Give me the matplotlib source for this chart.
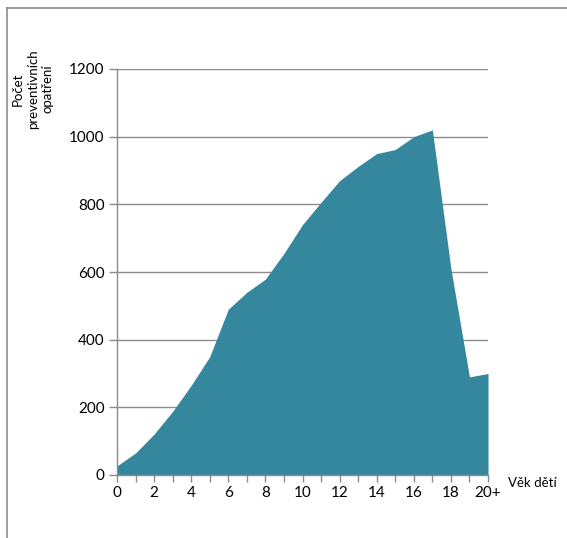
import matplotlib
matplotlib.use('Agg')
import matplotlib.pyplot as plt
from matplotlib.lines import Line2D
import numpy as np

plt.rcParams['font.family'] = ['Lato', 'DejaVu Sans']

# počet preventivních opatření podle věku dítěte
ages = list(range(21))
counts = [27, 65, 121, 188, 265, 350, 490, 540, 579, 655, 740, 806,
          870, 912, 950, 962, 1000, 1020, 610, 290, 300]
tick_pos = list(range(0, 21, 2))
tick_labels = ['0', '2', '4', '6', '8', '10', '12', '14', '16', '18', '20+']
y_ticks = [0, 200, 400, 600, 800, 1000, 1200]

fill_color = '#34879C'
grid_color = '#8C8C8C'

fig = plt.figure(figsize=(5.67, 5.38), dpi=100)
ax = fig.add_axes([117 / 567, 1 - 475 / 538, 371 / 567, 406 / 538])

ax.fill_between(ages, counts, 0, color=fill_color, linewidth=0, zorder=3)

ax.set_xlim(0, 20)
ax.set_ylim(0, 1200)
ax.set_xticks(ages, minor=True)
ax.set_xticks(tick_pos)
ax.set_xticklabels(tick_labels, fontsize=11)
ax.set_yticks(y_ticks)
ax.set_yticklabels([str(v) for v in y_ticks], fontsize=11)
ax.tick_params(axis='x', which='both', length=5, color=grid_color, width=1, pad=3)
ax.tick_params(axis='y', length=6, color=grid_color, width=1, pad=3)

ax.grid(True, axis='y', color=grid_color, linewidth=1, zorder=1)
ax.set_axisbelow(True)
for side in ['top', 'right']:
    ax.spines[side].set_visible(False)
for side in ['left', 'bottom']:
    ax.spines[side].set_color(grid_color)
    ax.spines[side].set_linewidth(1)
    ax.spines[side].set_zorder(4)

fig.text(33 / 567, 1 - 89 / 538, 'Počet\npreventivních\nopatření', rotation=90,
         ha='center', va='center', fontsize=9.5, multialignment='center',
         linespacing=1.3)
fig.text(508 / 567, 1 - 483 / 538, 'Věk dětí', ha='left', va='center', fontsize=9.5)

# rámeček grafu
fig.add_artist(Line2D([7 / 567, 1], [1 - 8 / 538, 1 - 8 / 538],
                      transform=fig.transFigure, color='#8C8C8C', linewidth=1.2))
fig.add_artist(Line2D([7 / 567, 7 / 567], [0, 1 - 8 / 538],
                      transform=fig.transFigure, color='#8C8C8C', linewidth=1.2))

fig.savefig('out.png', dpi=100)
